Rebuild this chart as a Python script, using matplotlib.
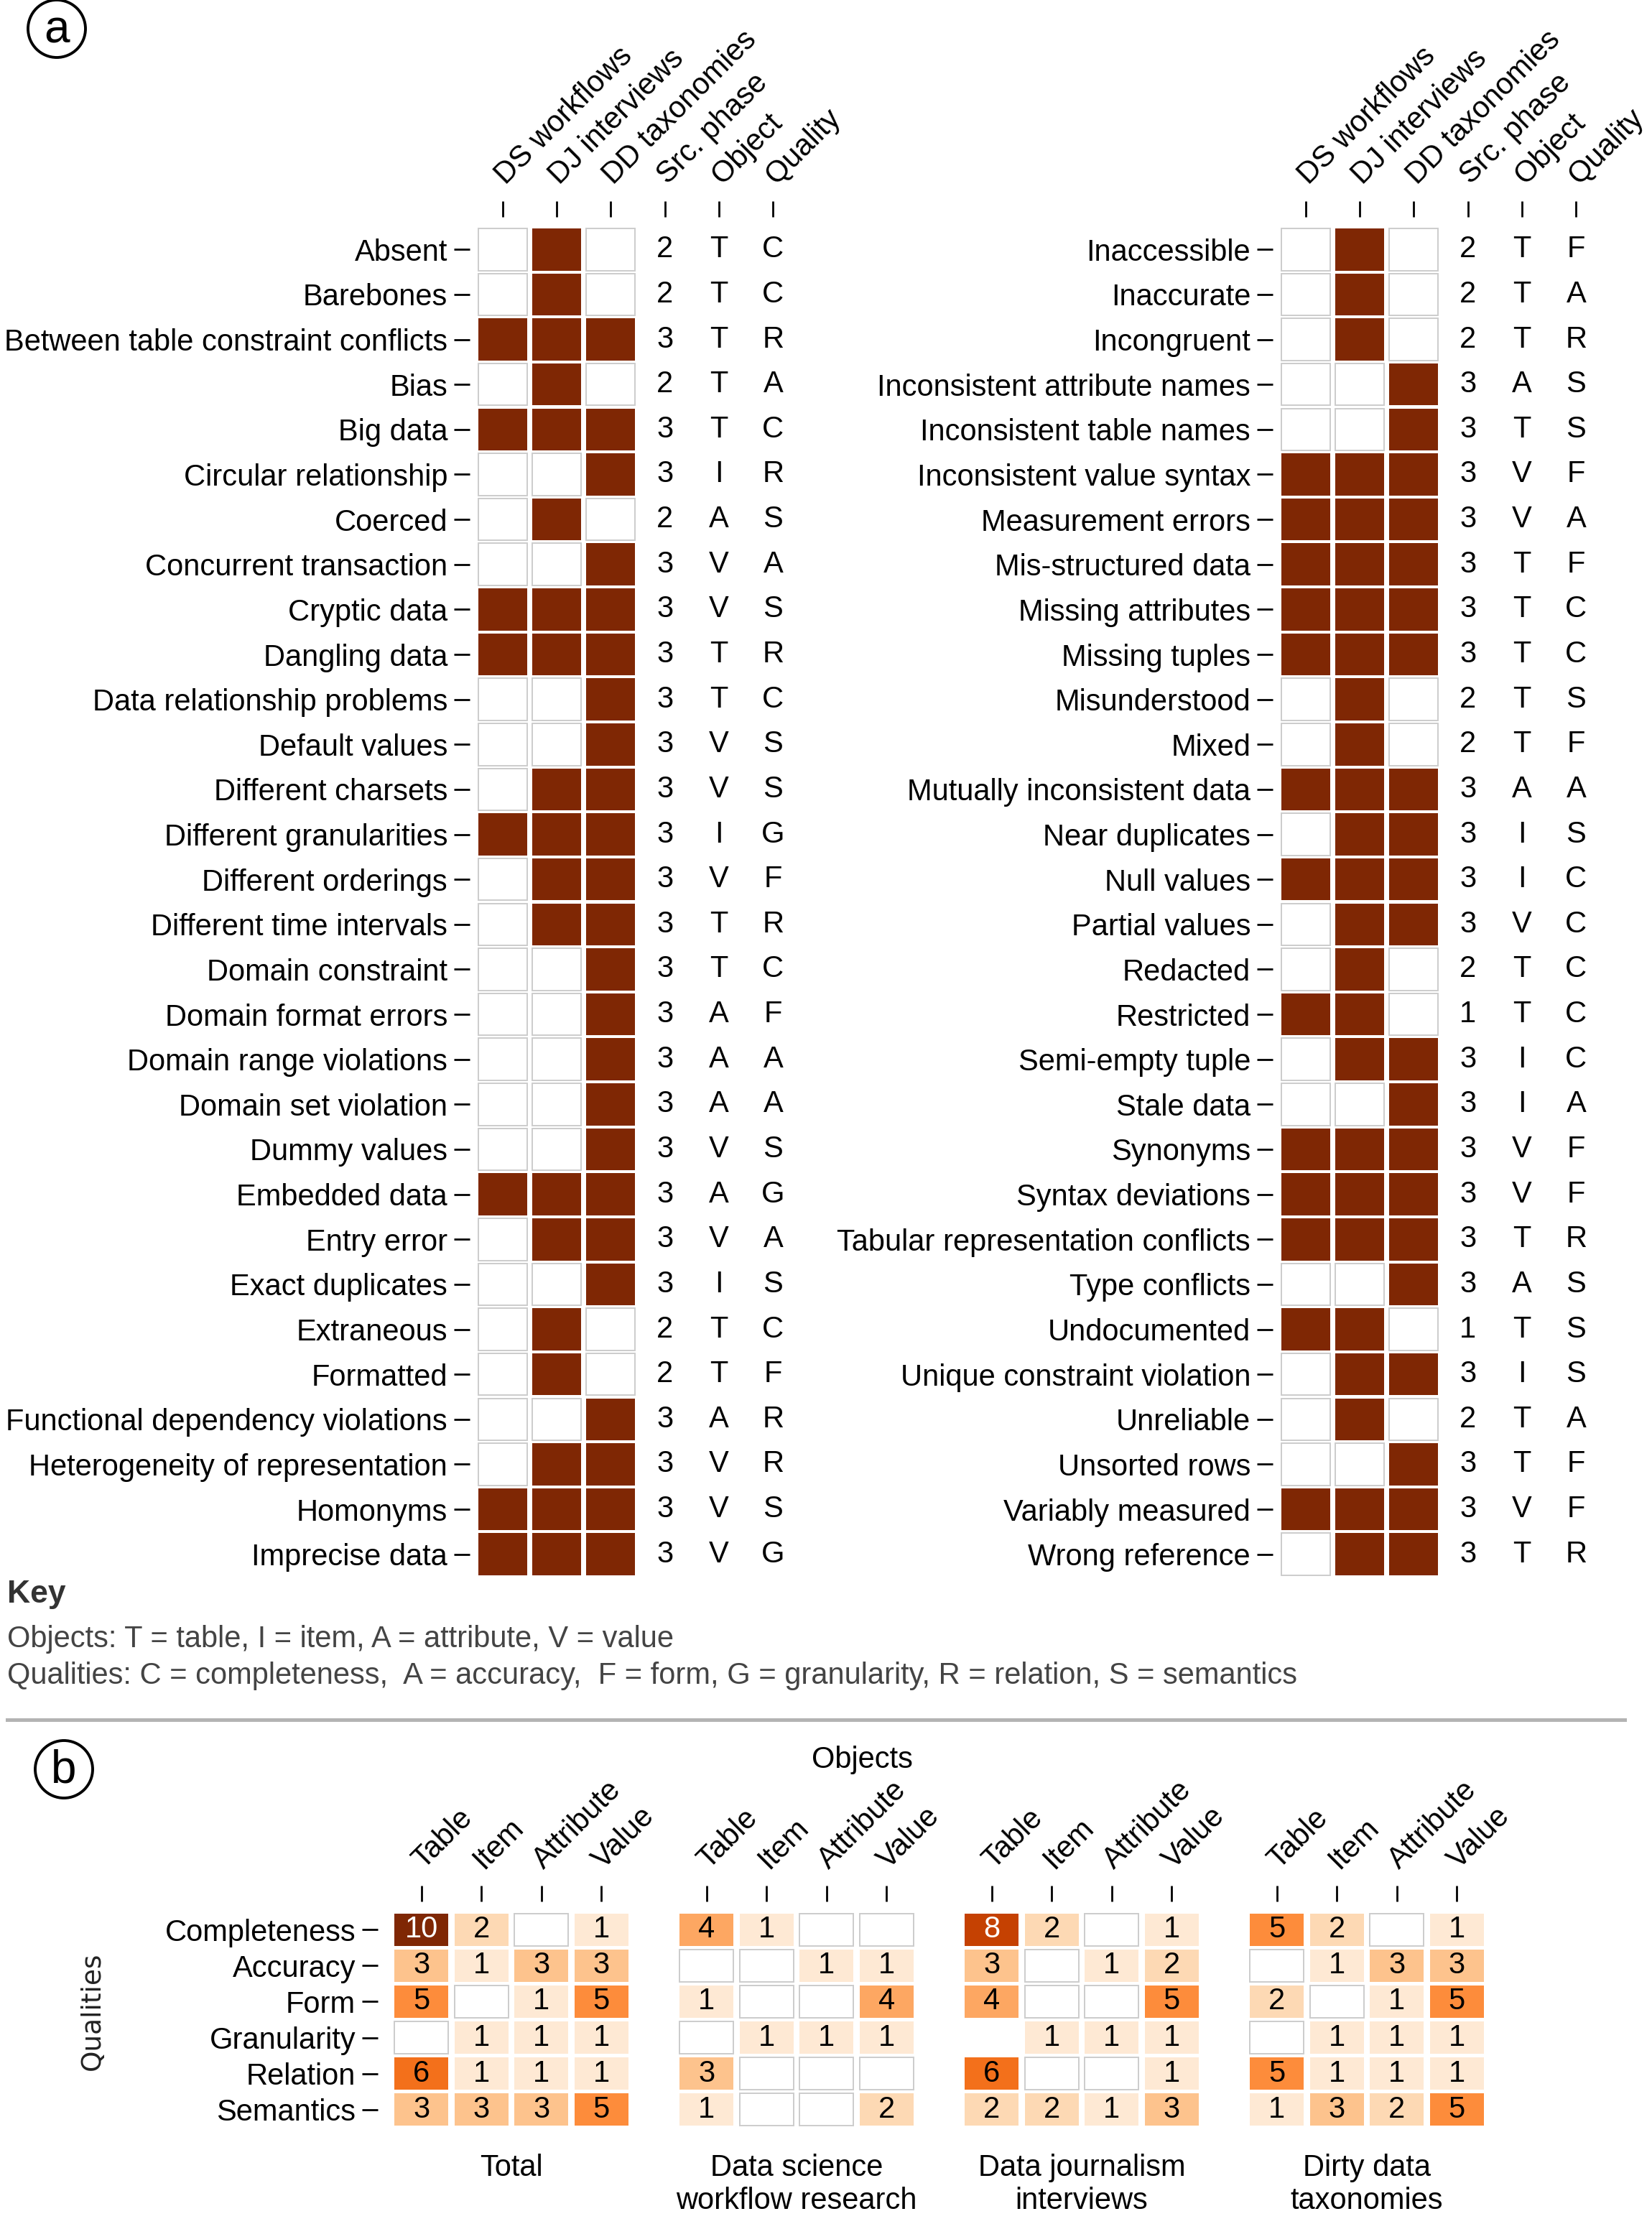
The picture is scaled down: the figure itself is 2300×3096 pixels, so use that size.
import numpy as np
import matplotlib
matplotlib.use('Agg')
import matplotlib.pyplot as plt
from matplotlib.patches import Rectangle, Circle
from matplotlib.lines import Line2D
from matplotlib.transforms import ScaledTranslation
import matplotlib.colors as mcolors

plt.rcParams['font.family'] = ['Liberation Sans', 'DejaVu Sans']

# ---------------- data: panel a ----------------
col_labels_a = ["DS workflows", "DJ interviews", "DD taxonomies", "Src. phase", "Object", "Quality"]

left_names = ["Absent", "Barebones", "Between table constraint conflicts", "Bias", "Big data",
              "Circular relationship", "Coerced", "Concurrent transaction", "Cryptic data", "Dangling data",
              "Data relationship problems", "Default values", "Different charsets", "Different granularities",
              "Different orderings", "Different time intervals", "Domain constraint", "Domain format errors",
              "Domain range violations", "Domain set violation", "Dummy values", "Embedded data", "Entry error",
              "Exact duplicates", "Extraneous", "Formatted", "Functional dependency violations",
              "Heterogeneity of representation", "Homonyms", "Imprecise data"]
left_ds = [0,0,1,0,1,0,0,0,1,1, 0,0,0,1,0,0,0,0,0,0, 0,1,0,0,0,0,0,0,1,1]
left_dj = [1,1,1,1,1,0,1,0,1,1, 0,0,1,1,1,1,0,0,0,0, 0,1,1,0,1,1,0,1,1,1]
left_dd = [0,0,1,0,1,1,0,1,1,1, 1,1,1,1,1,1,1,1,1,1, 1,1,1,1,0,0,1,1,1,1]
left_phase = [2,2,3,2,3,3,2,3,3,3, 3,3,3,3,3,3,3,3,3,3, 3,3,3,3,2,2,3,3,3,3]
left_object = "T T T T T I A V V T T V V I V T T A A A V A V I T T A V V V".split()
left_quality = "C C R A C R S A S R C S S G F R C F A A S G A S C F R R S G".split()

right_names = ["Inaccessible", "Inaccurate", "Incongruent", "Inconsistent attribute names",
               "Inconsistent table names", "Inconsistent value syntax", "Measurement errors",
               "Mis-structured data", "Missing attributes", "Missing tuples", "Misunderstood", "Mixed",
               "Mutually inconsistent data", "Near duplicates", "Null values", "Partial values", "Redacted",
               "Restricted", "Semi-empty tuple", "Stale data", "Synonyms", "Syntax deviations",
               "Tabular representation conflicts", "Type conflicts", "Undocumented",
               "Unique constraint violation", "Unreliable", "Unsorted rows", "Variably measured",
               "Wrong reference"]
right_ds = [0,0,0,0,0,1,1,1,1,1, 0,0,1,0,1,0,0,1,0,0, 1,1,1,0,1,0,0,0,1,0]
right_dj = [1,1,1,0,0,1,1,1,1,1, 1,1,1,1,1,1,1,1,1,0, 1,1,1,0,1,1,1,0,1,1]
right_dd = [0,0,0,1,1,1,1,1,1,1, 0,0,1,1,1,1,0,0,1,1, 1,1,1,1,0,1,0,1,1,1]
right_phase = [2,2,2,3,3,3,3,3,3,3, 2,2,3,3,3,3,2,1,3,3, 3,3,3,3,1,3,2,3,3,3]
right_object = "T T T A T V V T T T T T A I I V T T I I V V T A T I T T V T".split()
right_quality = "F A R S S F A F C C S F A S C C C C C A F F R S S S A F F R".split()

# ---------------- data: panel b ----------------
qualities = ["Completeness", "Accuracy", "Form", "Granularity", "Relation", "Semantics"]
objects = ["Table", "Item", "Attribute", "Value"]
nan = np.nan
total_counts = [[10, 2, 0, 1], [3, 1, 3, 3], [5, 0, 1, 5], [0, 1, 1, 1], [6, 1, 1, 1], [3, 3, 3, 5]]
ds_counts = [[4, 1, 0, 0], [0, 0, 1, 1], [1, 0, 0, 4], [0, 1, 1, 1], [3, 0, 0, 0], [1, 0, 0, 2]]
dj_counts = [[8, 2, 0, 1], [3, 0, 1, 2], [4, 0, 0, 5], [nan, 1, 1, 1], [6, 0, 0, 1], [2, 2, 1, 3]]
dd_counts = [[5, 2, 0, 1], [0, 1, 3, 3], [2, 0, 1, 5], [0, 1, 1, 1], [5, 1, 1, 1], [1, 3, 2, 5]]
group_titles = ["Total", "Data science\nworkflow research", "Data journalism\ninterviews",
                "Dirty data\ntaxonomies"]

# ---------------- figure ----------------
W, H = 2300, 3096
DPI = 200
fig = plt.figure(figsize=(W / DPI, H / DPI), dpi=DPI)


def add_axes_px(x0, x1, y0, y1):
    return fig.add_axes([x0 / W, 1 - y1 / H, (x1 - x0) / W, (y1 - y0) / H])


FILL = "#7f2704"
EDGE = "#cccccc"
FS = 15


def shift_labels(labels, dx_pt, dy_pt=0):
    for lab in labels:
        lab.set_transform(lab.get_transform() + ScaledTranslation(dx_pt / 72, dy_pt / 72, fig.dpi_scale_trans))


def style_axes(ax, yticks=True, left_out=3):
    for s in ax.spines.values():
        s.set_visible(False)
    ax.spines['top'].set_position(('outward', 5))
    ax.spines['left'].set_position(('outward', left_out))
    ax.xaxis.tick_top()
    ax.tick_params(axis='x', direction='out', length=8, width=1.0, pad=8, top=True, bottom=False,
                   labelsize=FS)
    if yticks:
        ax.tick_params(axis='y', direction='out', length=8, width=1.0, pad=3, labelsize=FS)
    else:
        ax.tick_params(axis='y', length=0, labelleft=False)
    ax.set_facecolor('none')


def draw_table(ax, names, ds, dj, dd, phase, obj, qual):
    n = len(names)
    style_axes(ax)
    for i in range(n):
        for j, v in enumerate([ds[i], dj[i], dd[i]]):
            if v:
                ax.add_patch(Rectangle((j - 0.45, i - 0.4675), 0.9, 0.935, facecolor=FILL, edgecolor='none'))
            else:
                ax.add_patch(Rectangle((j - 0.45, i - 0.4675), 0.9, 0.935, facecolor='white',
                                       edgecolor=EDGE, lw=0.7))
        for j, t in zip([3, 4, 5], [str(phase[i]), obj[i], qual[i]]):
            ax.text(j, i, t, ha='center', va='center', fontsize=FS, color='black')
    ax.set_xlim(-0.5, 5.5)
    ax.set_ylim(n - 0.5, -0.5)
    ax.set_yticks(range(n))
    ax.set_yticklabels(names, fontsize=FS)
    ax.set_xticks(range(6))
    ax.set_xticklabels(col_labels_a, fontsize=FS, rotation=45, ha='left', va='baseline',
                       rotation_mode='anchor')
    shift_labels(ax.get_xticklabels(), 1.5)


# left table
axL = add_axes_px(662, 1114, 316, 2195)
draw_table(axL, left_names, left_ds, left_dj, left_dd, left_phase, left_object, left_quality)
# right table
axR = add_axes_px(1780, 2232, 316, 2195)
draw_table(axR, right_names, right_ds, right_dj, right_dd, right_phase, right_object, right_quality)


# panel labels
def circ_label(xp, yp, letter):
    fig.add_artist(Circle((xp / DPI, (H - yp) / DPI), 40 / DPI, transform=fig.dpi_scale_trans,
                          facecolor='none', edgecolor='black', lw=1.4))
    fig.text(xp / W, 1 - (yp + 2) / H, letter, ha='center', va='center', fontsize=23)


circ_label(79, 40, 'a')
circ_label(89, 2463, 'b')

# key
fig.text(10 / W, 1 - 2220 / H, "Key", fontsize=FS + 1, fontweight='bold', color='#333333',
         ha='left', va='center')
fig.text(10 / W, 1 - 2282 / H, "Objects: T = table, I = item, A = attribute, V = value",
         fontsize=FS, color='#444444', ha='left', va='center')
fig.text(10 / W, 1 - 2333 / H,
         "Qualities: C = completeness,  A = accuracy,  F = form, G = granularity, R = relation, S = semantics",
         fontsize=FS, color='#444444', ha='left', va='center')

# separator
fig.add_artist(Line2D([10 / W, 2262 / W], [1 - 2394 / H, 1 - 2394 / H], color='#b3b3b3', lw=1.8))

# ---------------- panel b ----------------
cmap = plt.get_cmap('Oranges')
norm = mcolors.Normalize(vmin=0, vmax=10)
groups = [total_counts, ds_counts, dj_counts, dd_counts]
x_start = 545
for g, (counts, title) in enumerate(zip(groups, group_titles)):
    x0 = x_start + 397 * g
    ax = add_axes_px(x0, x0 + 334, 2661, 2962)
    style_axes(ax, yticks=(g == 0), left_out=7)
    arr = np.array(counts, dtype=float)
    for i in range(arr.shape[0]):
        for j in range(arr.shape[1]):
            v = arr[i, j]
            if np.isnan(v):
                continue
            if v > 0:
                ax.add_patch(Rectangle((j - 0.45, i - 0.45), 0.9, 0.9, facecolor=cmap(norm(v)),
                                       edgecolor='none'))
                ax.text(j, i, f"{int(v)}", ha='center', va='center', fontsize=FS,
                        color='white' if v >= 7 else 'black')
            else:
                ax.add_patch(Rectangle((j - 0.45, i - 0.45), 0.9, 0.9, facecolor='white',
                                       edgecolor=EDGE, lw=0.7))
    ax.set_xlim(-0.5, 3.5)
    ax.set_ylim(5.5, -0.5)
    ax.set_xticks(range(4))
    ax.set_xticklabels(objects, fontsize=FS, rotation=45, ha='left', va='baseline', rotation_mode='anchor')
    shift_labels(ax.get_xticklabels(), 1.0)
    ax.set_yticks(range(6))
    if g == 0:
        ax.set_yticklabels(qualities, fontsize=FS)
    ax.text(0.5, -0.12, title, transform=ax.transAxes, ha='center', va='top', fontsize=FS,
            linespacing=1.2)

fig.text(1200 / W, 1 - 2450 / H, "Objects", ha='center', va='center', fontsize=FS)
fig.text(129 / W, 1 - 2800 / H, "Qualities", ha='center', va='center', fontsize=13.5, rotation=90,
         family='DejaVu Sans', color='#222222')

fig.savefig("out.png", dpi=DPI, facecolor='white')
